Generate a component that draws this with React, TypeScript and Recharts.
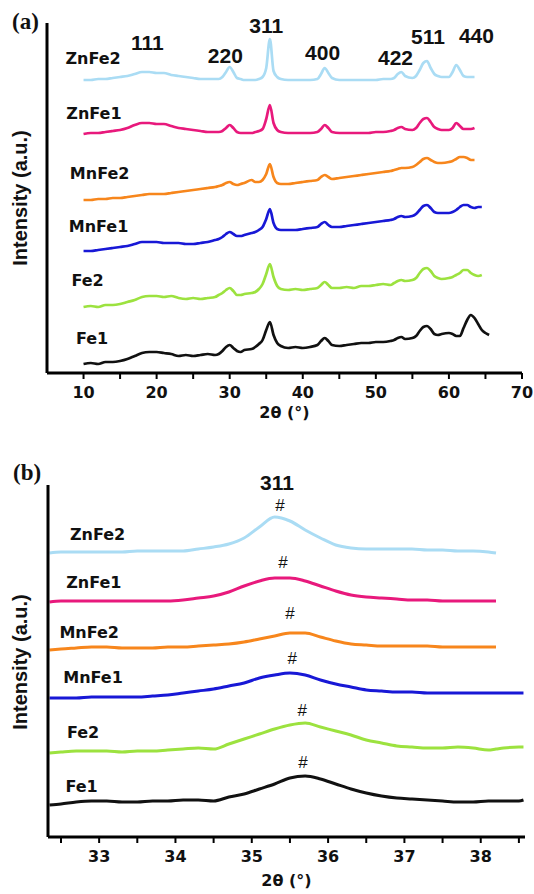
import { LineChart, Line, XAxis, YAxis, ReferenceDot } from 'recharts'

const SANS = "'DejaVu Sans', sans-serif"
const ARIAL = "'Liberation Sans', Arial, sans-serif"
const SERIF = "'Liberation Serif', 'Times New Roman', serif"

const SERIES = ['ZnFe2', 'ZnFe1', 'MnFe2', 'MnFe1', 'Fe2', 'Fe1']
const COLORS: Record<string, string> = {
  ZnFe2: '#aadcf4',
  ZnFe1: '#e8197c',
  MnFe2: '#f7861c',
  MnFe1: '#1818d6',
  Fe2: '#9ce23f',
  Fe1: '#111111',
}

// (a) full scan, 2θ in degrees; intensities are stacked, arbitrary units
const TWO_THETA_A = [
  10, 11, 12, 13, 14, 15, 16, 17, 18, 19,
  20, 21, 22, 23, 24, 25, 26, 27, 28, 28.5,
  29, 29.5, 30, 30.5, 31, 31.5, 32, 33, 33.5, 34,
  34.5, 35, 35.5, 36, 36.5, 37, 38, 39, 40, 41,
  42, 42.5, 43, 43.5, 44, 45, 46, 47, 48, 49,
  50, 51, 52, 52.5, 53, 53.5, 54, 55, 55.5, 56,
  56.5, 57, 57.5, 58, 58.5, 59, 60, 60.5, 61, 61.5,
  62, 62.5, 63, 63.5, 64, 64.5, 65, 65.5,
]
const ZNFE2_A = [
  293, 293, 294, 294, 295, 296, 297, 299, 301, 301,
  300, 300, 298, 297, 296, 295, 294, 294, 294, 294,
  296, 301, 306, 301, 295, 294, 293, 293, 293, 294,
  296, 305, 334, 302, 296, 294, 293, 293, 293, 293,
  294, 299, 305, 300, 295, 293, 293, 293, 293, 293,
  293, 294, 294, 295, 299, 301, 297, 295, 297, 303,
  310, 312, 305, 299, 297, 296, 296, 301, 308, 303,
  297, 296, 296, 296, null, null, null, null,
]
const ZNFE1_A = [
  239, 240, 240, 241, 242, 243, 245, 248, 250, 250,
  249, 249, 247, 245, 244, 243, 242, 241, 241, 241,
  242, 245, 248, 245, 241, 240, 240, 240, 241, 242,
  244, 254, 268, 250, 243, 241, 240, 240, 240, 240,
  241, 244, 248, 245, 241, 240, 240, 240, 240, 240,
  241, 241, 242, 243, 245, 246, 244, 243, 245, 250,
  254, 255, 251, 246, 244, 243, 243, 245, 250, 247,
  244, 244, 244, 245, null, null, null, null,
]
const MNFE2_A = [
  173, 173, 174, 174, 175, 175, 176, 177, 178, 179,
  179, 179, 180, 181, 182, 183, 184, 185, 186, 187,
  188, 190, 191, 189, 188, 189, 190, 193, 191, 191,
  193, 199, 209, 196, 190, 189, 189, 190, 191, 192,
  193, 196, 198, 196, 194, 195, 196, 197, 198, 199,
  200, 201, 202, 203, 204, 205, 205, 206, 208, 211,
  214, 215, 213, 211, 210, 210, 211, 212, 214, 216,
  216, 215, 213, 213, null, null, null, null,
]
const MNFE1_A = [
  122, 122, 123, 124, 125, 126, 127, 129, 131, 131,
  131, 130, 130, 130, 129, 129, 130, 131, 133, 134,
  136, 139, 141, 139, 137, 137, 138, 140, 141, 143,
  146, 154, 164, 150, 144, 143, 143, 143, 144, 145,
  146, 149, 151, 148, 146, 146, 147, 148, 149, 150,
  151, 152, 153, 154, 156, 157, 156, 157, 159, 163,
  167, 168, 165, 161, 160, 160, 160, 161, 163, 166,
  168, 168, 166, 165, 166, 166, null, null,
]
const FE2_A = [
  66, 67, 66, 68, 68, 69, 71, 73, 76, 77,
  77, 76, 77, 75, 74, 75, 74, 75, 76, 78,
  80, 83, 85, 82, 78, 78, 79, 80, 81, 84,
  89, 99, 109, 96, 87, 84, 83, 84, 83, 84,
  85, 88, 91, 88, 85, 85, 86, 85, 87, 87,
  88, 89, 88, 90, 92, 93, 92, 93, 95, 100,
  104, 105, 102, 97, 95, 94, 95, 96, 98, 100,
  103, 103, 100, 98, 97, 98, null, null,
]
const FE1_A = [
  9, 10, 9, 11, 11, 12, 14, 17, 20, 21,
  21, 20, 19, 17, 18, 17, 18, 19, 18, 19,
  22, 26, 28, 25, 22, 21, 23, 24, 26, 29,
  33, 43, 51, 38, 30, 27, 25, 26, 25, 26,
  28, 32, 35, 32, 28, 27, 28, 29, 30, 30,
  31, 31, 32, 33, 35, 36, 34, 35, 37, 42,
  46, 47, 44, 39, 38, 39, 40, 39, 37, 37,
  45, 53, 58, 55, 49, 43, 40, 38,
]

// (b) close-up of the (311) reflection
const TWO_THETA_B = [
  32.35, 32.5, 32.7, 32.9, 33.1, 33.3, 33.5, 33.7, 33.9, 34.1,
  34.3, 34.5, 34.7, 34.9, 35.1, 35.3, 35.5, 35.7, 35.9, 36.1,
  36.3, 36.5, 36.7, 36.9, 37.1, 37.3, 37.5, 37.7, 37.9, 38.1,
  38.2, 38.3, 38.5, 38.56,
]
const ZNFE2_B = [
  284, 285, 285, 285, 285, 285, 286, 286, 286, 286,
  288, 290, 293, 299, 310, 320, 316, 307, 299, 292,
  289, 288, 288, 288, 288, 287, 287, 286, 286, 285,
  284, null, null, null,
]
const ZNFE1_B = [
  235, 236, 236, 236, 236, 236, 236, 236, 236, 237,
  239, 241, 245, 251, 256, 259, 259, 256, 251, 246,
  242, 240, 239, 238, 237, 237, 236, 236, 236, 236,
  236, null, null, null,
]
const MNFE2_B = [
  187, 188, 189, 190, 190, 189, 189, 189, 190, 190,
  191, 192, 193, 195, 198, 201, 204, 204, 200, 196,
  193, 192, 191, 191, 191, 191, 190, 190, 190, 190,
  190, null, null, null,
]
const MNFE1_B = [
  139, 139, 139, 140, 140, 140, 140, 141, 142, 144,
  146, 148, 151, 154, 159, 162, 164, 162, 157, 153,
  150, 147, 146, 145, 145, 144, 144, 144, 144, 144,
  144, 144, 144, 144,
]
const FE2_B = [
  84, 85, 86, 86, 86, 85, 86, 86, 87, 88,
  89, 88, 93, 98, 103, 108, 112, 114, 110, 106,
  102, 97, 94, 91, 90, 89, 89, 90, 89, 87,
  88, 89, 90, 90,
]
const FE1_B = [
  32, 33, 35, 36, 36, 35, 35, 36, 36, 37,
  37, 36, 40, 43, 48, 53, 59, 61, 58, 53,
  48, 44, 41, 39, 38, 37, 36, 35, 35, 36,
  36, 36, 36, 37,
]

const X_TICKS_A = [10, 15, 20, 25, 30, 35, 40, 45, 50, 55, 60, 65, 70]
const Y_TICKS_A = [26, 52, 78, 104, 130, 156, 182, 208, 234, 260, 286, 312, 338]
const X_TICKS_B = [32.5, 33, 33.5, 34, 34.5, 35, 35.5, 36, 36.5, 37, 37.5, 38, 38.5]
const Y_TICKS_B = [14, 38, 62, 86, 110, 134, 158, 182, 206, 230, 254, 278, 302, 326, 350]

// Miller indices over the peaks in (a)
const PEAK_LABELS_A = ['111', '220', '311', '400', '422', '511', '440']
const PEAK_LABEL_AT_A = [
  [18.74, 330], [29.4, 317], [35.0, 347], [42.72, 320], [52.69, 315], [57.13, 336], [63.76, 337],
]
// sample name anchors
const NAME_AT_A = [[11.3, 315], [11.43, 260], [12.2, 200], [12.05, 147], [10.55, 93], [11.16, 35]]
const NAME_AT_B = [[32.98, 303], [32.93, 255], [32.87, 205], [32.92, 160], [32.79, 105], [32.77, 51]]
// '#' marks over the (311) maximum in (b)
const HASH_AT_B = [[35.37, 332], [35.41, 275], [35.5, 224], [35.53, 179], [35.66, 127], [35.67, 75]]

type Row = Record<string, number | null>
type Anno = { text: string; x: number; y: number; font: string; size: number; weight: number }

function buildRows(xs: number[], cols: (number | null)[][]): Row[] {
  return xs.map((x, i) => {
    const row: Row = { x }
    SERIES.forEach((name, k) => {
      row[name] = cols[k][i]
    })
    return row
  })
}

const ROWS_A = buildRows(TWO_THETA_A, [ZNFE2_A, ZNFE1_A, MNFE2_A, MNFE1_A, FE2_A, FE1_A])
const ROWS_B = buildRows(TWO_THETA_B, [ZNFE2_B, ZNFE1_B, MNFE2_B, MNFE1_B, FE2_B, FE1_B])

const ANNOS_A: Anno[] = [
  ...SERIES.map((s, i) => ({ text: s, x: NAME_AT_A[i][0], y: NAME_AT_A[i][1], font: SANS, size: 16, weight: 700 })),
  ...PEAK_LABELS_A.map((s, i) => ({
    text: s, x: PEAK_LABEL_AT_A[i][0], y: PEAK_LABEL_AT_A[i][1], font: ARIAL, size: 21, weight: 700,
  })),
]
const ANNOS_B: Anno[] = [
  ...SERIES.map((s, i) => ({ text: s, x: NAME_AT_B[i][0], y: NAME_AT_B[i][1], font: SANS, size: 16, weight: 700 })),
  ...HASH_AT_B.map(([x, y]) => ({ text: '#', x, y, font: ARIAL, size: 17, weight: 400 })),
  { text: '311', x: 35.33, y: 354.5, font: ARIAL, size: 21, weight: 700 },
]

type PanelProps = {
  rows: Row[]
  height: number
  margin: { top: number; right: number; bottom: number; left: number }
  xDomain: [number, number]
  xTicks: number[]
  yDomain: [number, number]
  yTicks: number[]
  isMajor: (v: number) => boolean
  xAxisHeight: number
  titleOffset: number
  strokeWidth: number
  annos: Anno[]
}

function Panel(p: PanelProps) {
  return (
    <LineChart width={534} height={p.height} data={p.rows} margin={p.margin}>
      <XAxis
        dataKey="x"
        type="number"
        domain={p.xDomain}
        ticks={p.xTicks}
        allowDataOverflow
        interval={0}
        height={p.xAxisHeight}
        tickSize={6}
        tickMargin={8}
        tickFormatter={(v: number) => (p.isMajor(v) ? String(v) : '')}
        axisLine={{ stroke: '#000', strokeWidth: 3 }}
        tickLine={{ stroke: '#000', strokeWidth: 2 }}
        tick={{ fill: '#111', fontSize: 16, fontWeight: 700, fontFamily: SANS }}
        label={{
          value: '2θ (°)',
          position: 'insideBottom',
          offset: p.titleOffset,
          fill: '#111',
          fontSize: 16,
          fontWeight: 700,
          fontFamily: SANS,
        }}
      />
      <YAxis
        type="number"
        domain={p.yDomain}
        ticks={p.yTicks}
        allowDataOverflow
        interval={0}
        width={1}
        tick={false}
        tickSize={5}
        axisLine={{ stroke: '#000', strokeWidth: 3 }}
        tickLine={{ stroke: '#000', strokeWidth: 2 }}
      />
      {SERIES.map((name) => (
        <Line
          key={name}
          dataKey={name}
          type="monotone"
          stroke={COLORS[name]}
          strokeWidth={p.strokeWidth}
          dot={false}
          connectNulls={false}
          isAnimationActive={false}
        />
      ))}
      {p.annos.map((a, i) => (
        <ReferenceDot
          key={i}
          x={a.x}
          y={a.y}
          r={0}
          fill="none"
          stroke="none"
          ifOverflow="visible"
          label={{
            value: a.text,
            position: 'center',
            fill: '#111',
            fontSize: a.size,
            fontWeight: a.weight,
            fontFamily: a.font,
          }}
        />
      ))}
    </LineChart>
  )
}

export default function App() {
  return (
    <div style={{ position: 'absolute', left: 0, top: 0, width: 534, height: 894, background: '#fff' }}>
      <div style={{ position: 'absolute', left: 0, top: 0 }}>
        <Panel
          rows={ROWS_A}
          height={440}
          margin={{ top: 23, right: 12, bottom: 17, left: 46 }}
          xDomain={[5, 70]}
          xTicks={X_TICKS_A}
          yDomain={[0, 350]}
          yTicks={Y_TICKS_A}
          isMajor={(v) => v % 10 === 0}
          xAxisHeight={50}
          titleOffset={5}
          strokeWidth={2.7}
          annos={ANNOS_A}
        />
      </div>
      <div style={{ position: 'absolute', left: 0, top: 440 }}>
        <Panel
          rows={ROWS_B}
          height={454}
          margin={{ top: 45, right: 9, bottom: 3, left: 47 }}
          xDomain={[32.33, 38.58]}
          xTicks={X_TICKS_B}
          yDomain={[0, 352]}
          yTicks={Y_TICKS_B}
          isMajor={(v) => Number.isInteger(v)}
          xAxisHeight={54}
          titleOffset={5}
          strokeWidth={3}
          annos={ANNOS_B}
        />
      </div>
      <svg
        width={534}
        height={894}
        style={{ position: 'absolute', left: 0, top: 0, pointerEvents: 'none' }}
      >
        <text x={12} y={29} fontFamily={SERIF} fontWeight={700} fontSize={23} fill="#111">
          (a)
        </text>
        <text x={13} y={480} fontFamily={SERIF} fontWeight={700} fontSize={23} fill="#111">
          (b)
        </text>
        <text
          x={27}
          y={198}
          transform="rotate(-90 27 198)"
          textAnchor="middle"
          fontFamily={ARIAL}
          fontWeight={700}
          fontSize={20}
          fill="#111"
        >
          Intensity (a.u.)
        </text>
        <text
          x={27}
          y={662}
          transform="rotate(-90 27 662)"
          textAnchor="middle"
          fontFamily={ARIAL}
          fontWeight={700}
          fontSize={20}
          fill="#111"
        >
          Intensity (a.u.)
        </text>
      </svg>
    </div>
  )
}
